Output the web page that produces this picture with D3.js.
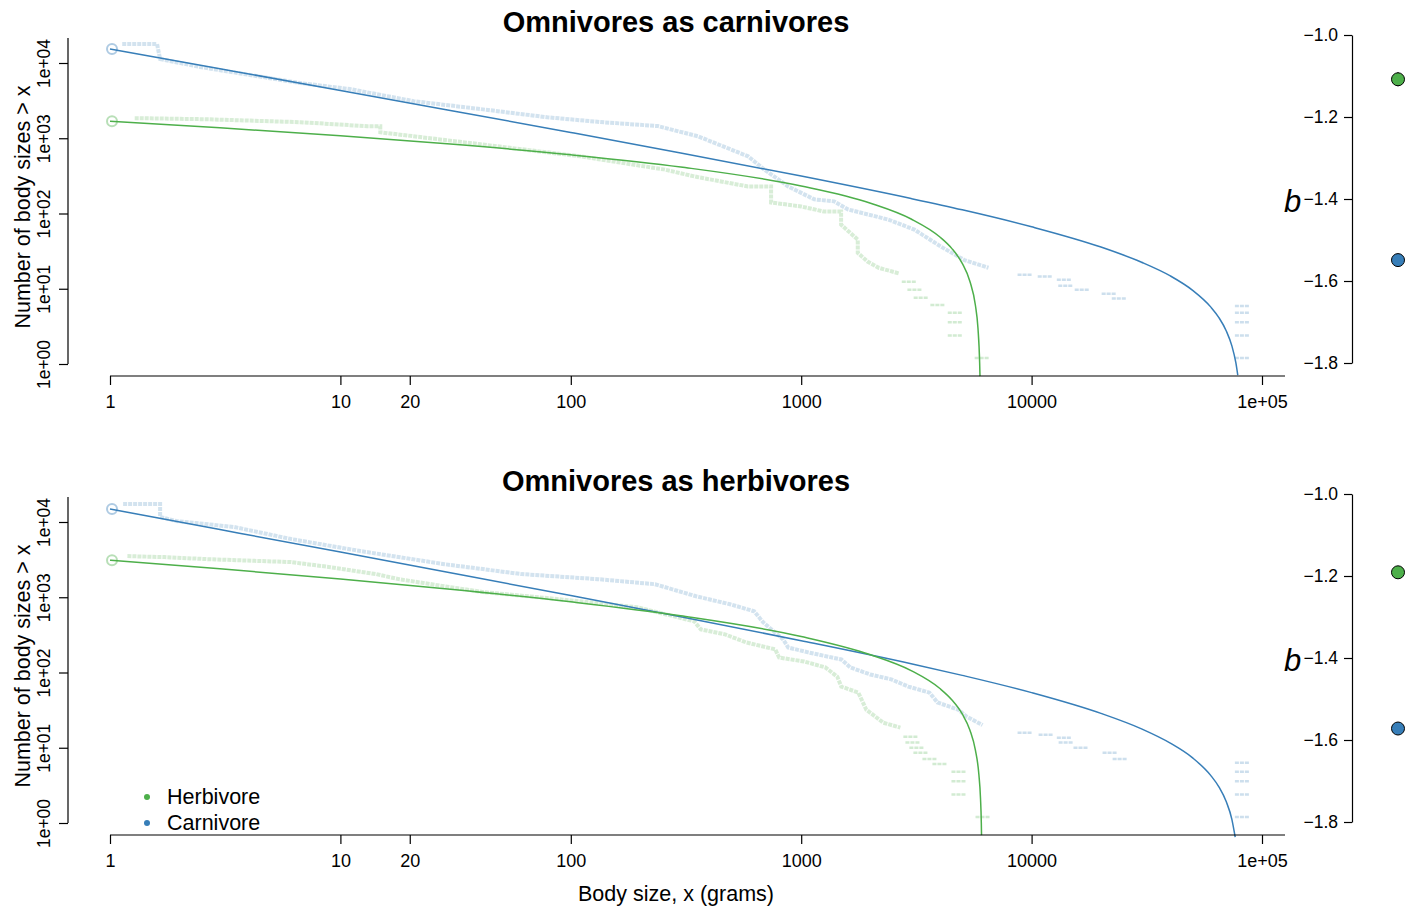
<!DOCTYPE html>
<html lang="en">
<head>
<meta charset="UTF-8" />
<title>Omnivores body size distributions</title>
<script src="https://cdn.jsdelivr.net/npm/d3@7"></script>
<style>
  body { margin: 0; background: #fff; }
  svg text { font-family: "Liberation Sans", Arial, Helvetica, sans-serif; fill: #000; }
</style>
</head>
<body>
<svg id="vis" width="1408" height="910"></svg>
<script>
// tick values
var xTicks = [1, 10, 20, 100, 1000, 10000, 100000];
var yTicks = [1, 10, 100, 1000, 10000];
var bTicks = [-1.0, -1.2, -1.4, -1.6, -1.8];
var panelTitles = ["Omnivores as carnivores", "Omnivores as herbivores"];
var groups = ["Herbivore", "Carnivore"];

// fitted truncated power laws, [body size, count > x]
var fitHerbTop = [[1,1686],[3,1377],[10,1078],[30,837],[100,603],[300,415],[1000,232],[2000,137],[3000,84.5],[4000,48.7],[4500,34.4],[5000,21.7],[5400,12.5],[5700,6.08],[5850,3.01],[5950,1.04],[5970,0.69]];
var fitCarnTop = [[1,15380],[3,8390],[10,4313],[30,2343],[100,1193],[300,638],[1000,314],[3000,158],[5000,112],[10000,66.6],[20000,35.8],[30000,22.5],[40000,14.8],[50000,9.52],[60000,5.70],[65000,4.14],[70000,2.75],[74000,1.74],[77000,1.04],[78500,0.71]];
var fitHerbBottom = [[1,3113],[3,2389],[10,1750],[30,1281],[100,869],[300,568],[1000,301],[2000,172],[3000,106],[4000,61.2],[4500,43.5],[5000,28.1],[5400,17.1],[5700,9.36],[5900,4.51],[6000,2.15],[6050,1.0],[6063,0.69]];
var fitCarnBottom = [[1,14900],[3,7945],[10,3984],[30,2116],[100,1053],[300,551],[1000,265],[3000,131],[5000,91.6],[10000,54.0],[20000,28.6],[30000,17.8],[40000,11.5],[50000,7.33],[60000,4.26],[65000,3.02],[70000,1.91],[74000,1.12],[76500,0.65]];

// observed rank distributions (faint), dense part and sparse tail
var obsHerbTop = [[1.28,1850],[2.6,1790],[6.7,1635],[13.1,1445],[14.9,1445],[14.9,1200],[40.5,832],[110,575],[253,386],[354,305],[587,229],[740,229],[740,140],[1000,124],[1260,106],[1490,106],[1490,71],[1760,45],[1760,30],[1940,23],[2170,19],[2650,16]];
var tailHerbTop = [[2930,12.4],[3100,9.7],[3300,7.6],[3900,6.1],[4640,4.8],[4640,3.6],[4640,2.4],[6070,1.2]];
var obsCarnTop = [[1.13,17900],[1.6,17900],[1.65,11300],[2.46,8850],[4.06,6920],[6.7,5410],[11,4500],[20.8,3110],[40.6,2440],[79,1900],[135,1640],[239,1450],[357,1060],[588,575],[690,386],[878,229],[1140,154],[1390,145],[1600,113],[2390,83],[3100,61],[4060,36],[5110,24],[6500,19]];
var tailCarnTop = [[9320,15.4],[11400,14.5],[13800,13.2],[14000,11],[16500,9.7],[21600,8.6],[23900,7.4],[81800,5.9],[81800,4.8],[81800,3.6],[81800,2.4],[81800,1.2]];
var obsHerbBottom = [[1.19,3520],[1.73,3415],[2.64,3210],[6.12,2930],[9.05,2510],[14.3,2030],[17.9,1740],[28.3,1400],[41.8,1170],[89.6,940],[194,736],[343,479],[367,374],[467,321],[577,251],[771,203],[802,158],[1030,140],[1272,117],[1434,88],[1493,65],[1770,54],[1917,32],[2273,21.5],[2694,18.5]];
var tailHerbBottom = [[2978,14],[3039,11.7],[3162,10],[3292,8.6],[3602,7.1],[3981,6.1],[4815,4.8],[4815,3.6],[4815,2.4],[6124,1.2]];
var obsCarnBottom = [[1.14,17400],[1.65,17400],[1.65,11700],[1.94,10300],[3.46,8580],[6.12,5930],[12.2,4110],[28.3,2750],[61.2,2030],[131,1740],[232,1490],[350,1030],[491,807],[625,651],[684,464],[835,275],[878,215],[1073,185],[1493,149],[1633,117],[1995,94],[2462,81],[2919,65],[3602,54],[3903,40],[4815,32],[5218,26],[6124,20]];
var tailCarnBottom = [[9320,15.8],[11500,14.9],[13800,13.6],[14050,11.7],[16300,10],[21800,8.6],[24100,7.1],[81800,6.3],[81800,4.8],[81800,3.6],[81800,2.4],[81800,1.2]];

// exponent b estimates [herbivore, carnivore]
var bTop = [-1.108, -1.549];
var bTopLow = [-1.125, -1.559];
var bTopHigh = [-1.091, -1.539];
var bBottom = [-1.191, -1.572];
var bBottomLow = [-1.199, -1.580];
var bBottomHigh = [-1.183, -1.564];

var colors = ["#4daf4a", "#377eb8"];

var svg = d3.select("#vis");
var x = d3.scaleLog().domain([1, 1e5]).range([110, 1262]);

var panels = [
	{ title: panelTitles[0], off: 0, fits: [fitCarnTop, fitHerbTop], obs: [obsCarnTop, obsHerbTop], tails: [tailCarnTop, tailHerbTop], cols: [colors[1], colors[0]], b: bTop, lo: bTopLow, hi: bTopHigh },
	{ title: panelTitles[1], off: 459, fits: [fitCarnBottom, fitHerbBottom], obs: [obsCarnBottom, obsHerbBottom], tails: [tailCarnBottom, tailHerbBottom], cols: [colors[1], colors[0]], b: bBottom, lo: bBottomLow, hi: bBottomHigh }
];

panels.forEach(function (p) {
	var off = p.off;
	var y = d3.scaleLog().domain([1, 1e4]).range([364 + off, 63 + off]);
	var g = svg.append("g");

	var line = d3.line()
		.x(function (d) { return x(d[0]); })
		.y(function (d) { return y(d[1]); });

	// faint observed data
	for (var i = 0; i < 2; i++) {
		g.append("path")
			.attr("d", line(p.obs[i]))
			.attr("fill", "none")
			.attr("stroke", p.cols[i])
			.attr("stroke-opacity", 0.22)
			.attr("stroke-width", 4)
			.attr("stroke-dasharray", "4 1");
		g.selectAll(null).data(p.tails[i]).join("line")
			.attr("x1", function (d) { return x(d[0]) - 7; })
			.attr("x2", function (d) { return x(d[0]) + 7; })
			.attr("y1", function (d) { return y(d[1]); })
			.attr("y2", function (d) { return y(d[1]); })
			.attr("stroke", p.cols[i])
			.attr("stroke-opacity", 0.25)
			.attr("stroke-width", 2.5)
			.attr("stroke-dasharray", "4 1");
		g.append("circle")
			.attr("cx", x(p.fits[i][0][0]) + 2)
			.attr("cy", y(p.fits[i][0][1]))
			.attr("r", 5)
			.attr("fill", "none")
			.attr("stroke", p.cols[i])
			.attr("stroke-opacity", 0.4)
			.attr("stroke-width", 2);
	}

	// fitted lines (herbivore on top)
	var smooth = d3.line()
		.x(function (d) { return x(d[0]); })
		.y(function (d) { return y(d[1]); })
		.curve(d3.curveMonotoneX);
	for (var j = 0; j < 2; j++) {
		g.append("path")
			.attr("d", smooth(p.fits[j]))
			.attr("fill", "none")
			.attr("stroke", p.cols[j])
			.attr("stroke-width", 1.5);
	}

	// x axis
	var gx = g.append("g")
		.attr("transform", "translate(0," + (376 + off) + ")")
		.call(d3.axisBottom(x).tickValues(xTicks).tickSize(9).tickSizeOuter(0)
			.tickFormat(function (d) { return d === 1e5 ? "1e+05" : String(d); }));
	gx.select(".domain").remove();
	gx.append("line").attr("x1", 110).attr("x2", 1285).attr("stroke", "#000").attr("stroke-width", 1.2);
	gx.selectAll(".tick line").attr("stroke-width", 1.2);
	gx.selectAll(".tick text").attr("font-size", 18).attr("y", 32).attr("dy", null);

	// y axis
	var gy = g.append("g")
		.attr("transform", "translate(68,0)")
		.call(d3.axisLeft(y).tickValues(yTicks).tickSize(9).tickSizeOuter(0)
			.tickFormat(function (d) { return "1e+" + String(Math.round(Math.log10(d))).padStart(2, "0"); }));
	gy.select(".domain").remove();
	gy.append("line").attr("y1", 38 + off).attr("y2", 364 + off).attr("stroke", "#000").attr("stroke-width", 1.2);
	gy.selectAll(".tick line").attr("stroke-width", 1.2);
	gy.selectAll(".tick text")
		.attr("font-size", 17.5)
		.attr("x", 0).attr("y", 0).attr("dy", null)
		.attr("text-anchor", "middle")
		.attr("transform", "translate(-18,0) rotate(-90)");

	g.append("text")
		.attr("transform", "translate(30," + (207 + off) + ") rotate(-90)")
		.attr("text-anchor", "middle")
		.attr("font-size", 21.5)
		.text("Number of body sizes > x");

	// title
	g.append("text")
		.attr("x", 676).attr("y", 32 + off)
		.attr("text-anchor", "middle")
		.attr("font-size", 29)
		.attr("font-weight", "bold")
		.text(p.title);

	// b panel
	var bs = d3.scaleLinear().domain([-1.8, -1.0]).range([363 + off, 35 + off]);
	var gb = g.append("g")
		.attr("transform", "translate(1352,0)")
		.call(d3.axisLeft(bs).tickValues(bTicks).tickSize(8).tickSizeOuter(0).tickFormat(d3.format(".1f")));
	gb.select(".domain").attr("stroke-width", 1.2);
	gb.selectAll(".tick line").attr("stroke-width", 1.2);
	gb.selectAll(".tick text").attr("font-size", 17.5).attr("x", -14);

	g.append("text")
		.attr("x", 1284).attr("y", 212 + off)
		.attr("font-size", 31)
		.attr("font-style", "italic")
		.text("b");

	for (var k = 0; k < 2; k++) {
		g.append("line")
			.attr("x1", 1398).attr("x2", 1398)
			.attr("y1", bs(p.lo[k])).attr("y2", bs(p.hi[k]))
			.attr("stroke", "#000").attr("stroke-width", 1.2);
		g.append("circle")
			.attr("cx", 1398).attr("cy", bs(p.b[k]))
			.attr("r", 6.5)
			.attr("fill", colors[k])
			.attr("stroke", "#000")
			.attr("stroke-width", 1);
	}
});

// legend (bottom panel)
groups.forEach(function (name, i) {
	svg.append("circle")
		.attr("cx", 147).attr("cy", 797 + i * 26)
		.attr("r", 3)
		.attr("fill", colors[i]);
	svg.append("text")
		.attr("x", 167).attr("y", 804 + i * 26)
		.attr("font-size", 21.5)
		.text(name);
});

svg.append("text")
	.attr("x", 676).attr("y", 901)
	.attr("text-anchor", "middle")
	.attr("font-size", 21.5)
	.text("Body size, x (grams)");
</script>
</body>
</html>
